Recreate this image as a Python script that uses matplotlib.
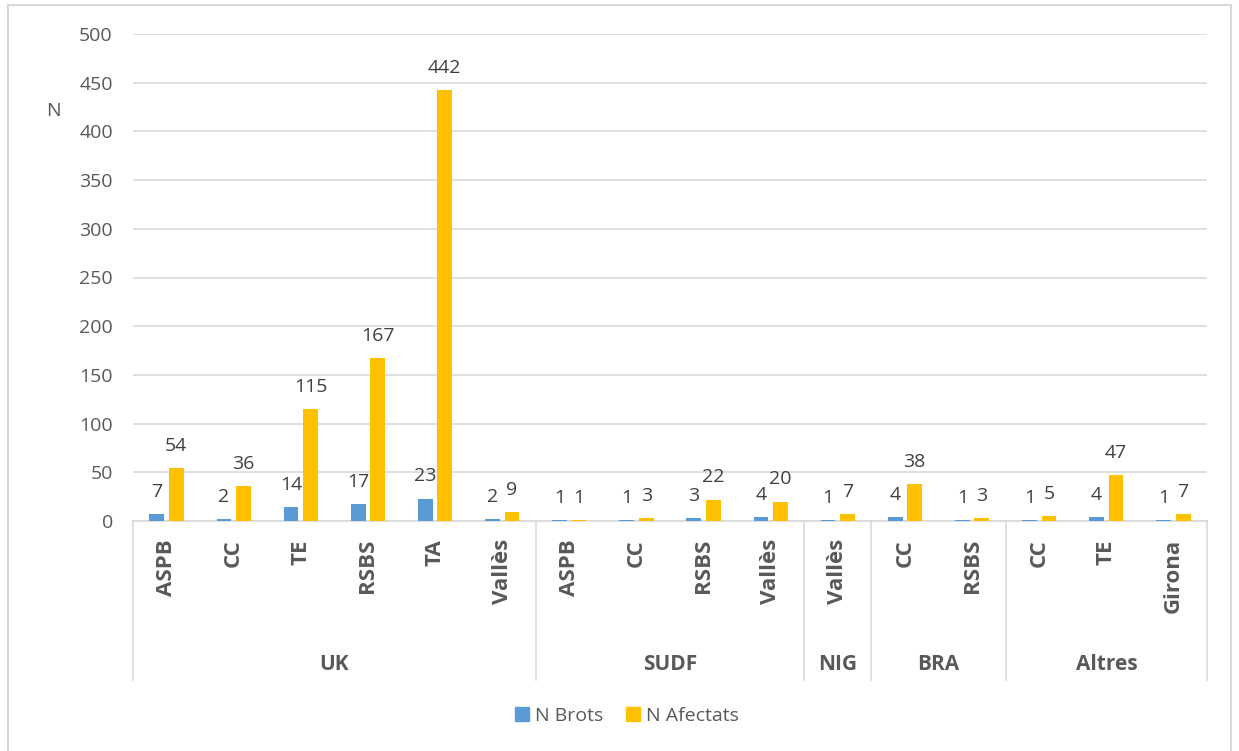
import numpy as np
import matplotlib.pyplot as plt
from matplotlib.patches import Rectangle, Patch
from matplotlib.transforms import blended_transform_factory

# ----------------------------
# data
# ----------------------------
groups = ["UK", "SUDF", "NIG", "BRA", "Altres"]
group_sizes = [6, 4, 1, 2, 3]
categories = ["ASPB", "CC", "TE", "RSBS", "TA", "Vallès",
              "ASPB", "CC", "RSBS", "Vallès",
              "Vallès",
              "CC", "RSBS",
              "CC", "TE", "Girona"]
n_brots = [7, 2, 14, 17, 23, 2, 1, 1, 3, 4, 1, 4, 1, 1, 4, 1]
n_afectats = [54, 36, 115, 167, 442, 9, 1, 3, 22, 20, 7, 38, 3, 5, 47, 7]
y_ticks = list(range(0, 501, 50))

BLUE = "#5B9BD5"
YELLOW = "#FFC000"
GRID = "#D9D9D9"
TXT = "#595959"
LBL = "#404040"
FONT = ["Open Sans", "DejaVu Sans"]

W, H = 1239, 751
fig = plt.figure(figsize=(W / 100, H / 100), dpi=100)
ax = fig.add_axes([133 / W, 230 / H, 1074 / W, 487 / H])

x = np.arange(len(categories))
bw = 0.22
off = 0.145
ax.bar(x - off, n_brots, bw, color=BLUE, label="N Brots", zorder=2)
ax.bar(x + off, n_afectats, bw, color=YELLOW, label="N Afectats", zorder=2)

# etiquetes de dades
for xs, vals in ((x - off, n_brots), (x + off, n_afectats)):
    for xi, v in zip(xs, vals):
        ax.annotate(str(v), (xi, v), xytext=(0, 12.5), textcoords="offset points",
                    ha="center", va="baseline", fontsize=14, color=LBL, family=FONT)

ax.set_xlim(-0.5, len(categories) - 0.5)
ax.set_ylim(0, 500)
ax.set_yticks(y_ticks)
ax.tick_params(axis="y", length=0, pad=14.5, labelsize=14, labelcolor=TXT)
for t in ax.get_yticklabels():
    t.set_family(FONT)
ax.yaxis.grid(True, color=GRID, lw=1.2)
ax.set_axisbelow(True)
for s in ax.spines.values():
    s.set_visible(False)
ax.axhline(0, color=GRID, lw=1.2, clip_on=False, zorder=1)

ax.set_xticks(x)
ax.set_xticklabels(categories, rotation=90, fontweight="bold", fontsize=16,
                   color=TXT, family=FONT)
ax.tick_params(axis="x", length=0, pad=13)

# eix de categories en dos nivells
trans = blended_transform_factory(ax.transData, ax.transAxes)
bounds = np.cumsum([0] + group_sizes) - 0.5
for b in bounds:
    ax.plot([b, b], [0, -159 / 487], transform=trans, clip_on=False,
            color=GRID, lw=1.2)
centers = (bounds[:-1] + bounds[1:]) / 2
for c, g in zip(centers, groups):
    ax.text(c, -143 / 487, g, transform=trans, ha="center", va="center",
            fontsize=15, fontweight="bold", color=TXT, family=FONT)

fig.text(53 / W, 1 - 111 / H, "N", ha="center", va="center", fontsize=14,
         color=TXT, family=FONT)

handles = [Patch(color=BLUE), Patch(color=YELLOW)]
leg = fig.legend(handles, ["N Brots", "N Afectats"], loc="center",
                 bbox_to_anchor=(627 / W, 1 - 716 / H), ncol=2, frameon=False,
                 handlelength=0.72, handleheight=0.72, handletextpad=0.3,
                 columnspacing=1.2, prop={"family": FONT, "size": 14})
for t in leg.get_texts():
    t.set_color(TXT)

# marc del gràfic
fig.patches.append(Rectangle((8 / W, -0.05), (1231 - 8) / W, 1.05 - 5 / H,
                             transform=fig.transFigure, fill=False,
                             edgecolor=GRID, lw=1.5))

fig.savefig("out.png", dpi=100)
